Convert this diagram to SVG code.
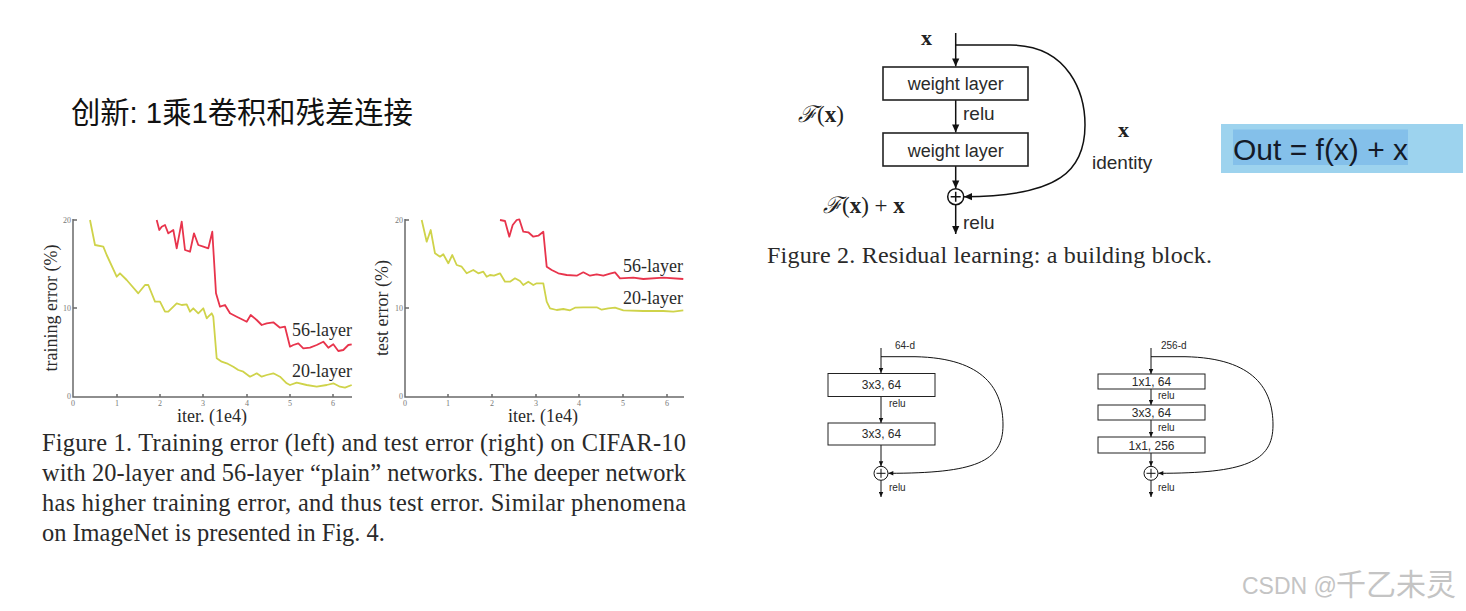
<svg xmlns="http://www.w3.org/2000/svg" width="1466" height="611" viewBox="0 0 1466 611">
<defs>
<marker id="arr" viewBox="0 0 10 10" refX="10" refY="5" markerWidth="9" markerHeight="8" markerUnits="userSpaceOnUse" orient="auto"><path d="M0,0.5 L10,5 L0,9.5 z" fill="#111"/></marker>
<marker id="arrs" viewBox="0 0 10 10" refX="10" refY="5" markerWidth="6" markerHeight="5" markerUnits="userSpaceOnUse" orient="auto"><path d="M0,0.5 L10,5 L0,9.5 z" fill="#111"/></marker>
</defs>
<style>
.serif{font-family:"Liberation Serif","Times New Roman",serif;fill:#2a2a2a}
.sans{font-family:"Liberation Sans",Arial,sans-serif;fill:#2a2a2a}
.axis{stroke:#6a6a6a;stroke-width:1.5;fill:none}
.tick{font-family:"Liberation Serif",serif;font-size:8px;fill:#777}
.y20{fill:none;stroke:#cfd34a;stroke-width:1.8;stroke-linejoin:round}
.r56{fill:none;stroke:#e8344c;stroke-width:1.8;stroke-linejoin:round}
.box{fill:#fff;stroke:#222;stroke-width:1.6}
.sbox{fill:#fff;stroke:#222;stroke-width:1}
.ln{stroke:#111;stroke-width:1.5;fill:none}
.lns{stroke:#111;stroke-width:1;fill:none}
.lbl18{font-size:18px}
.cap{font-size:24.4px}
</style>
<rect width="1466" height="611" fill="#fff"/>

<text x="71" y="123" font-family="'Liberation Sans','Noto Sans CJK SC',sans-serif" font-size="29.3" fill="#111">创新: 1乘1卷积和残差连接</text>

<!-- Chart 1 -->
<g id="chart-train">
<path class="axis" d="M73,219 V397 H352"/>
<path class="axis" stroke-width="1" d="M73,220 h4 M73,308 h4 M117,397 v-3 M160,397 v-3 M203,397 v-3 M247,397 v-3 M290,397 v-3 M333,397 v-3"/>
<text class="tick" x="71" y="223" text-anchor="end">20</text>
<text class="tick" x="71" y="311" text-anchor="end">10</text>
<text class="tick" x="71" y="399" text-anchor="end">0</text>
<g class="tick" text-anchor="middle"><text x="73" y="406">0</text><text x="117" y="406">1</text><text x="160" y="406">2</text><text x="203" y="406">3</text><text x="247" y="406">4</text><text x="290" y="406">5</text><text x="333" y="406">6</text></g>
<polyline class="y20" points="90,220 95,245 103.3,246.7 106.7,255 116.7,276.7 120,273.3 126.7,280 138.3,293.3 145,285 148.3,285 155,301.7 160,301.7 165,311.7 168.3,311.7 176.7,303.3 181.7,305 186.7,304.3 190,311.7 193.3,308.3 198.3,313.3 203.3,308.3 206.7,318.3 208.3,316.7 211.7,313.3 213.3,316.7 216.7,358.3 221.7,361.7 226.7,363.3 233.3,366.7 238.3,370 243.3,371.7 250,376.7 256.7,373.3 261.7,376.7 266.7,375 273.3,373.3 280,376.7 286.7,383.3 290,385 296.7,382.7 306.7,385 316.7,386.7 326.7,385 333.3,383.3 340,386.7 345,387.7 351.7,385"/>
<polyline class="r56" points="156.7,220 159.3,230 161.7,226.7 165,225 168.3,233.3 170.7,231.7 173.3,230 176.7,248.3 181.7,221.7 185,250 190,251.7 194,233.3 198.3,245 203.3,246.7 208.3,248.3 212.3,231.7 216,293.3 220,306.7 225,305 230,313.3 236.7,316.7 243.3,320 246.7,321.7 250.7,315 256.7,320 261.7,325 266.7,323.3 273.3,322.3 280,327.7 285,326.7 290,346.7 293.3,345 298.3,343.3 303.3,348.3 310,347.7 316.7,345 323.3,341.7 328.3,347.7 333.3,344.3 338.3,351 343.3,350 348.3,345 351.7,344.3"/>
<text class="serif lbl18" x="292" y="336">56-layer</text>
<text class="serif lbl18" x="292" y="377">20-layer</text>
<text class="serif lbl18" x="212" y="422" text-anchor="middle">iter. (1e4)</text>
<text class="serif lbl18" transform="translate(57,308) rotate(-90)" text-anchor="middle">training error (%)</text>
</g>

<!-- Chart 2 -->
<g id="chart-test">
<path class="axis" d="M405,219 V397 H684"/>
<path class="axis" stroke-width="1" d="M405,220 h4 M405,308 h4 M448,397 v-3 M492,397 v-3 M536,397 v-3 M579,397 v-3 M623,397 v-3 M667,397 v-3"/>
<text class="tick" x="403" y="223" text-anchor="end">20</text>
<text class="tick" x="403" y="311" text-anchor="end">10</text>
<text class="tick" x="403" y="399" text-anchor="end">0</text>
<g class="tick" text-anchor="middle"><text x="405" y="406">0</text><text x="448" y="406">1</text><text x="492" y="406">2</text><text x="536" y="406">3</text><text x="579" y="406">4</text><text x="623" y="406">5</text><text x="667" y="406">6</text></g>
<polyline class="y20" points="421.7,220 426.7,241.7 430.7,230 435,253.3 440,256.7 443.3,254.3 448.3,263.3 452.3,255 456.7,265 461.7,266.7 466.7,273.3 473.3,270 478.3,273.3 483.3,271.7 486.7,276.7 490,275 494,275.7 500,273.3 505,281.7 510,281.7 515,278.3 520,281 523.3,285 528.3,281.7 533.3,285 536.7,283.3 543.3,283.3 546.7,301.7 550,308.3 556.7,310 563.3,309 570,310.3 575,307.7 583.3,307.3 596.7,307.3 601.7,309.7 608.3,308.3 615,307.7 623.3,310.3 643.3,311 663.3,311 673.3,311.7 683.3,310.3"/>
<polyline class="r56" points="500,220 505,221 509.3,236.7 512.7,225 516.7,220 519.3,219.3 523.3,231.7 528.3,232.3 533.3,236.7 538.3,235.7 543.3,231.7 546.7,266.7 551.7,270 558.3,273.3 566.7,275 576.7,275.7 583.3,272.3 590,275.7 596.7,274.3 603.3,275.7 610,273.7 615,272.3 620,278.3 633.3,277.7 643.3,279 663.3,277.7 683.3,279"/>
<text class="serif lbl18" x="623" y="272">56-layer</text>
<text class="serif lbl18" x="623" y="304">20-layer</text>
<text class="serif lbl18" x="543" y="422" text-anchor="middle">iter. (1e4)</text>
<text class="serif lbl18" transform="translate(388,308) rotate(-90)" text-anchor="middle">test error (%)</text>
</g>

<g id="caption-fig1" class="serif cap">
<text x="42" y="451" textLength="644" lengthAdjust="spacing">Figure 1. Training error (left) and test error (right) on CIFAR-10</text>
<text x="42" y="481" textLength="644" lengthAdjust="spacing">with 20-layer and 56-layer “plain” networks. The deeper network</text>
<text x="42" y="511" textLength="644" lengthAdjust="spacing">has higher training error, and thus test error.  Similar phenomena</text>
<text x="42" y="541">on ImageNet is presented in Fig. 4.</text>
</g>

<!-- Figure 2 -->
<g id="fig2-connectors">
<path class="ln" d="M955.7,33 V66.5" marker-end="url(#arr)"/>
<path class="ln" d="M955.7,100 V132.5" marker-end="url(#arr)"/>
<path class="ln" d="M955.7,166 V188.5" marker-end="url(#arr)"/>
<path class="ln" d="M955.7,204.7 V234" marker-end="url(#arr)"/>
<path class="ln" d="M955.7,45 H1010 C1070,45 1085,95 1085,125 C1085,170 1060,196.7 964,196.7" marker-end="url(#arr)"/>
</g>
<g id="fig2-weight1"><rect class="box" x="883" y="67" width="145" height="33"/><text class="sans" x="955.7" y="90" font-size="18" text-anchor="middle">weight layer</text></g>
<g id="fig2-weight2"><rect class="box" x="883" y="133" width="145" height="33"/><text class="sans" x="955.7" y="156.5" font-size="18" text-anchor="middle">weight layer</text></g>
<g id="fig2-add"><circle cx="955.7" cy="196.7" r="8" fill="#fff" stroke="#111" stroke-width="1.5"/><path class="ln" d="M950.7,196.7 h10 M955.7,191.7 v10"/></g>
<g id="fig2-labels">
<text x="921" y="45" font-family="'Liberation Serif',serif" font-weight="bold" font-size="22" fill="#222">x</text>
<text class="sans" x="963" y="120" font-size="19">relu</text>
<text class="sans" x="963" y="229" font-size="19">relu</text>
<text x="1118" y="137" font-family="'Liberation Serif',serif" font-weight="bold" font-size="22" fill="#222">x</text>
<text class="sans" x="1092" y="169" font-size="19">identity</text>
<text x="798" y="122" font-family="'Liberation Serif','DejaVu Serif',serif" font-size="23" fill="#222"><tspan font-family="'DejaVu Serif',serif" font-style="italic">ℱ</tspan>(<tspan font-weight="bold">x</tspan>)</text>
<text x="823" y="213" font-family="'Liberation Serif','DejaVu Serif',serif" font-size="23" fill="#222"><tspan font-family="'DejaVu Serif',serif" font-style="italic">ℱ</tspan>(<tspan font-weight="bold">x</tspan>) + <tspan font-weight="bold">x</tspan></text>
<text class="serif" x="767" y="263" font-size="24" textLength="445" lengthAdjust="spacing">Figure 2. Residual learning: a building block.</text>
</g>

<g id="formula">
<rect x="1221" y="124" width="242" height="49" fill="#9dd3ee"/>
<rect x="1233" y="129.5" width="175" height="35.5" fill="#84c0ea"/>
<text x="1233" y="159.5" font-family="'Liberation Sans',Arial,sans-serif" font-size="30" fill="#141a28">Out = f(x) + x</text>
</g>

<!-- Bottom left block -->
<g id="blockA-connectors">
<path class="lns" d="M881,348 V373" marker-end="url(#arrs)"/>
<path class="lns" d="M881,396.5 V423" marker-end="url(#arrs)"/>
<path class="lns" d="M881,445 V466.3" marker-end="url(#arrs)"/>
<path class="lns" d="M881,480.3 V497" marker-end="url(#arrs)"/>
<path class="lns" d="M881,356.7 H915 C985,358 1003,390 1003,425 C1003,462 975,473.3 888.3,473.3" marker-end="url(#arrs)"/>
</g>
<g id="blockA-conv1"><rect class="sbox" x="828" y="373.5" width="107" height="23"/><text class="sans" x="881.5" y="389" font-size="12" text-anchor="middle">3x3, 64</text></g>
<g id="blockA-conv2"><rect class="sbox" x="828" y="423" width="107" height="22"/><text class="sans" x="881.5" y="438" font-size="12" text-anchor="middle">3x3, 64</text></g>
<g id="blockA-add"><circle cx="881" cy="473.3" r="7" fill="#fff" stroke="#111" stroke-width="1"/><path class="lns" d="M876.5,473.3 h9 M881,468.8 v9"/></g>
<g id="blockA-labels" class="sans" font-size="10">
<text x="895" y="349">64-d</text>
<text x="889" y="407">relu</text>
<text x="889" y="491">relu</text>
</g>

<!-- Bottom right block -->
<g id="blockB-connectors">
<path class="lns" d="M1151,348 V374" marker-end="url(#arrs)"/>
<path class="lns" d="M1151,389 V405" marker-end="url(#arrs)"/>
<path class="lns" d="M1151,420 V437" marker-end="url(#arrs)"/>
<path class="lns" d="M1151,453 V466.3" marker-end="url(#arrs)"/>
<path class="lns" d="M1151,480.3 V497" marker-end="url(#arrs)"/>
<path class="lns" d="M1151,356.7 H1185 C1255,358 1273,390 1273,425 C1273,462 1245,473.3 1158.3,473.3" marker-end="url(#arrs)"/>
</g>
<g id="blockB-conv1"><rect class="sbox" x="1098" y="374" width="107" height="15"/><text class="sans" x="1151.5" y="386" font-size="12" text-anchor="middle">1x1, 64</text></g>
<g id="blockB-conv2"><rect class="sbox" x="1098" y="405" width="107" height="15"/><text class="sans" x="1151.5" y="417" font-size="12" text-anchor="middle">3x3, 64</text></g>
<g id="blockB-conv3"><rect class="sbox" x="1098" y="437" width="107" height="16"/><text class="sans" x="1151.5" y="449.5" font-size="12" text-anchor="middle">1x1, 256</text></g>
<g id="blockB-add"><circle cx="1151" cy="473.3" r="7" fill="#fff" stroke="#111" stroke-width="1"/><path class="lns" d="M1146.5,473.3 h9 M1151,468.8 v9"/></g>
<g id="blockB-labels" class="sans" font-size="10">
<text x="1161" y="349">256-d</text>
<text x="1158" y="399">relu</text>
<text x="1158" y="431">relu</text>
<text x="1158" y="491">relu</text>
</g>

<g id="watermark" font-family="'Liberation Sans','Noto Sans CJK SC',sans-serif" fill="#c4c4c4">
<text x="1242" y="594" font-size="23">CSDN @</text>
<text x="1336" y="595" font-size="30">千乙未灵</text>
</g>
</svg>
